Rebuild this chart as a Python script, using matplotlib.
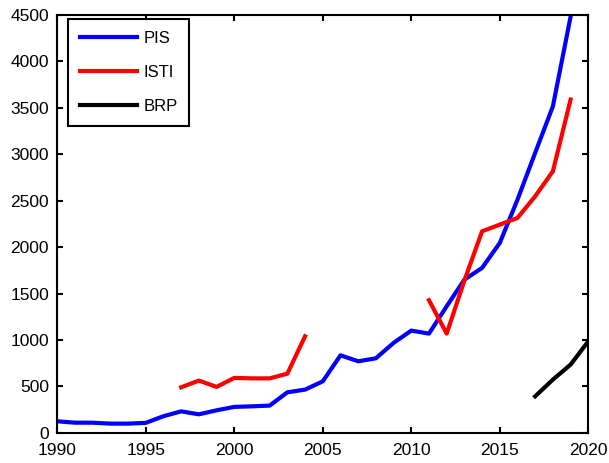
import matplotlib.pyplot as plt

plt.rcParams['font.family'] = ['Liberation Sans', 'DejaVu Sans']

pis_years = list(range(1990, 2020))
pis = [125, 110, 110, 100, 100, 108, 180, 232, 200, 243, 280, 286, 294, 437, 466,
       555, 835, 771, 803, 969, 1101, 1069, 1363, 1650, 1776, 2045, 2510, 3015, 3515, 4480]

isti_years_a = list(range(1997, 2005))
isti_a = [491, 563, 495, 592, 587, 587, 638, 1040]
isti_years_b = list(range(2011, 2020))
isti_b = [1428, 1069, 1640, 2170, 2242, 2314, 2547, 2816, 3588]

brp_years = [2017, 2018, 2019, 2020]
brp = [394, 574, 735, 986]

fig = plt.figure(figsize=(6.09, 4.63), dpi=100)
ax = fig.add_axes([0.094, 0.065, 0.872, 0.903])

ax.plot(pis_years, pis, color='#0000ff', lw=3, label='PIS')
ax.plot(isti_years_a, isti_a, color='#ff0000', lw=3, label='ISTI')
ax.plot(isti_years_b, isti_b, color='#ff0000', lw=3)
ax.plot(brp_years, brp, color='black', lw=3, label='BRP')

ax.set_xlim(1990, 2020)
ax.set_ylim(0, 4500)
ax.set_xticks(range(1990, 2021, 5))
ax.set_yticks(range(0, 4501, 500))
ax.tick_params(direction='in', top=True, right=True, labelsize=12.5, length=4, width=1.5)
ax.tick_params(axis='x', pad=7)
ax.tick_params(axis='y', pad=6)
for s in ax.spines.values():
    s.set_linewidth(1.5)

leg = ax.legend(loc='upper left', bbox_to_anchor=(0.021, 0.99), borderaxespad=0,
                fontsize=12, fancybox=False, edgecolor='black', framealpha=1,
                handlelength=3.4, labelspacing=1.15, borderpad=0.7, handletextpad=0.4)
leg.get_frame().set_linewidth(1.5)

plt.savefig('out.png', dpi=100)
